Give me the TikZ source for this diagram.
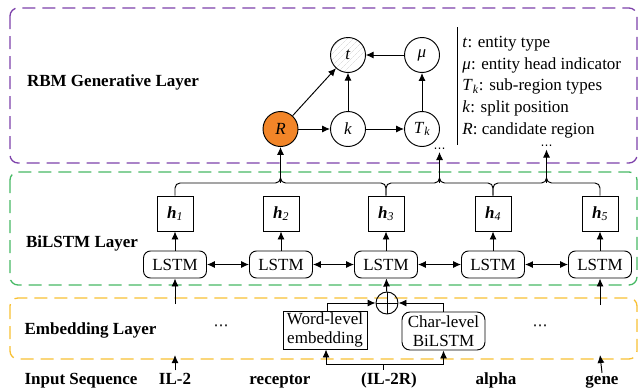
\documentclass[tikz,border=0pt]{standalone}
\usepackage{fontspec}
\setmainfont{Liberation Serif}
\newfontfamily\djv{DejaVu Sans}
\usetikzlibrary{arrows.meta,patterns.meta}
\definecolor{purp}{RGB}{125,65,170}
\definecolor{grn}{RGB}{70,185,100}
\definecolor{yel}{RGB}{248,192,50}
\definecolor{orng}{RGB}{242,133,40}
\tikzset{
  layerbox/.style={line width=1.3pt, dash pattern=on 13pt off 7pt, rounded corners=8pt},
  lbl/.style={font=\fontsize{17}{20}\selectfont\bfseries, anchor=base, inner sep=2pt},
  lstm/.style={draw, rounded corners=7pt, minimum width=63pt, minimum height=27pt, inner sep=0pt},
  hbox/.style={draw, minimum width=36pt, minimum height=35pt, inner sep=0pt},
  var/.style={draw, circle, minimum size=35pt, inner sep=0pt},
  leg/.style={anchor=base west, inner sep=0pt},
  conn/.style={line width=0.95pt},
  arr/.style={conn, -{Latex[length=8pt,width=7pt]}},
  darr/.style={conn, {Latex[length=8pt,width=7pt]}-{Latex[length=8pt,width=7pt]}},
  dots/.style={inner sep=0pt, font=\djv\fontsize{12}{14}\selectfont},
}
\begin{document}
\begin{tikzpicture}[x=1pt,y=-1pt, font=\fontsize{17}{20}\selectfont, line width=0.95pt]
\useasboundingbox (0,0) rectangle (639,388);

% layer boxes
\draw[purp, layerbox] (10,8) rectangle (637,163);
\draw[grn, layerbox] (10,172) rectangle (637,285);
\draw[yel, layerbox] (10,298) rectangle (637,359);

% layer labels
\node[lbl] (rbm) at (113,86) {RBM Generative Layer};
\node[lbl] (bil) at (82,247) {BiLSTM Layer};
\node[lbl] (emb) at (90.5,334) {Embedding Layer};
\node[lbl] (inp) at (81,384) {Input Sequence};

% input words
\node[lbl] (w1) at (175,384) {IL-2};
\node[lbl] (w2) at (280,384) {receptor};
\node[lbl] (w3) at (389,384) {(IL-2R)};
\node[lbl] (w4) at (496,384) {alpha};
\node[lbl] (w5) at (602,384) {gene};

% LSTM nodes
\node[lstm] (l1) at (175,264.5) {LSTM};
\node[lstm] (l2) at (281,264.5) {LSTM};
\node[lstm] (l3) at (386,264.5) {LSTM};
\node[lstm] (l4) at (493,264.5) {LSTM};
\node[lstm] (l5) at (600,264.5) {LSTM};

% hidden states
\node[hbox] (h1) at (175,213.5) {\textbf{\textit{h}}\textsubscript{\textit{1}}};
\node[hbox] (h2) at (281,213.5) {\textbf{\textit{h}}\textsubscript{\textit{2}}};
\node[hbox] (h3) at (386,213.5) {\textbf{\textit{h}}\textsubscript{\textit{3}}};
\node[hbox] (h4) at (493,213.5) {\textbf{\textit{h}}\textsubscript{\textit{4}}};
\node[hbox] (h5) at (600,213.5) {\textbf{\textit{h}}\textsubscript{\textit{5}}};

\foreach \i in {1,...,5} { \draw[arr] (l\i) -- (h\i); }
\draw[darr] (l1) -- (l2);
\draw[darr] (l2) -- (l3);
\draw[darr] (l3) -- (l4);
\draw[darr] (l4) -- (l5);

% RBM graph
\node[var, fill=orng] (R) at (280.5,129) {\textit{R}};
\node[var] (k) at (348,129) {\textit{k}};
\node[var] (Tk) at (422,129) {\textit{T}\textsubscript{\textit{k}}};
\node[var, pattern={Lines[angle=45,distance=4pt,line width=0.4pt]}, pattern color=black!18] (t) at (348,55) {};
\node (tl) at (348,55) {\textit{t}};
\node[var] (mu) at (422,55) {\textit{μ}};
\draw[arr] (R) -- (t);
\draw[arr] (R) -- (k);
\draw[arr] (k) -- (Tk);
\draw[arr] (k) -- (t);
\draw[arr] (Tk) -- (mu);
\draw[arr] (mu) -- (t);

% legend
\coordinate (lgt) at (457,27);
\coordinate (lgb) at (457,145);
\draw[conn] (lgt) -- (lgb);
\node[leg] (lg1) at (462,47.7) {\textit{t}: entity type};
\node[leg] (lg2) at (462,69.3) {\textit{μ}: entity head indicator};
\node[leg] (lg3) at (462,90.9) {\textit{T}\textsubscript{\textit{k}}: sub-region types};
\node[leg] (lg4) at (462,112.5) {\textit{k}: split position};
\node[leg] (lg5) at (462,134.1) {\textit{R}: candidate region};

% dots for other regions
\node[dots] (d1) at (439.5,150) {⋯};
\node[dots] (d2) at (546.5,147.5) {⋯};

% braces
\coordinate (b1) at (280.5,183);
\coordinate (b2) at (439.5,183);
\coordinate (b3) at (546.5,183);
\coordinate (d1b) at (439.5,152);
\coordinate (d2b) at (546.5,149.5);
\draw[conn, rounded corners=5pt] (h1.north) |- (b1) -- (280.5,172);
\draw[conn, rounded corners=5pt] (h3.north) |- (b1) -- (280.5,172);
\draw[arr] (b1) -- (R);
\draw[conn, rounded corners=5pt] (h3.north) |- (b2) -- (439.5,172);
\draw[conn, rounded corners=5pt] (h4.north) |- (b2) -- (439.5,172);
\draw[arr] (b2) -- (d1b);
\draw[conn, rounded corners=5pt] (h4.north) |- (b3) -- (546.5,172);
\draw[conn, rounded corners=5pt] (h5.north) |- (b3) -- (546.5,172);
\draw[arr] (b3) -- (d2b);

% embedding layer
\node[draw, circle, minimum size=22pt, inner sep=0pt] (plus) at (387,303) {};
\draw[conn] (plus.north) -- (plus.south);
\draw[conn] (plus.west) -- (plus.east);
\node[draw, align=center, minimum width=84pt, minimum height=38pt, inner sep=1pt,
      font=\fontsize{17}{19}\selectfont] (word) at (325,330) {Word-level\\embedding};
\node[draw, rounded corners=8pt, align=center, minimum width=83pt, minimum height=38pt, inner sep=1pt,
      font=\fontsize{17}{19}\selectfont] (char) at (443.5,331) {Char-level\\BiLSTM};
\node[dots, font=\djv\fontsize{15}{17}\selectfont] (e1) at (221,328) {⋯};
\node[dots, font=\djv\fontsize{15}{17}\selectfont] (e2) at (540,328) {⋯};
\draw[arr] (plus) -- (l3);
\draw[arr] ([xshift=2pt]word.north) |- (plus);
\draw[arr] (char.north) |- (plus);
\coordinate (sp) at (383,364);
\draw[conn] (sp |- w3.north) -- (sp);
\draw[arr] (sp) -| ([xshift=1pt]word.south);
\draw[arr] (sp) -| (char.south);

% word inputs and embedding outputs
\coordinate (i1) at (175,355);
\coordinate (o1) at (175,304);
\coordinate (i5) at (600,355);
\coordinate (o5) at (600,305);
\draw[arr] (w1.north) -- (i1);
\draw[arr] (o1) -- (l1);
\draw[arr] (w5.north) -- (i5);
\draw[arr] (o5) -- (l5);
\end{tikzpicture}
\end{document}
